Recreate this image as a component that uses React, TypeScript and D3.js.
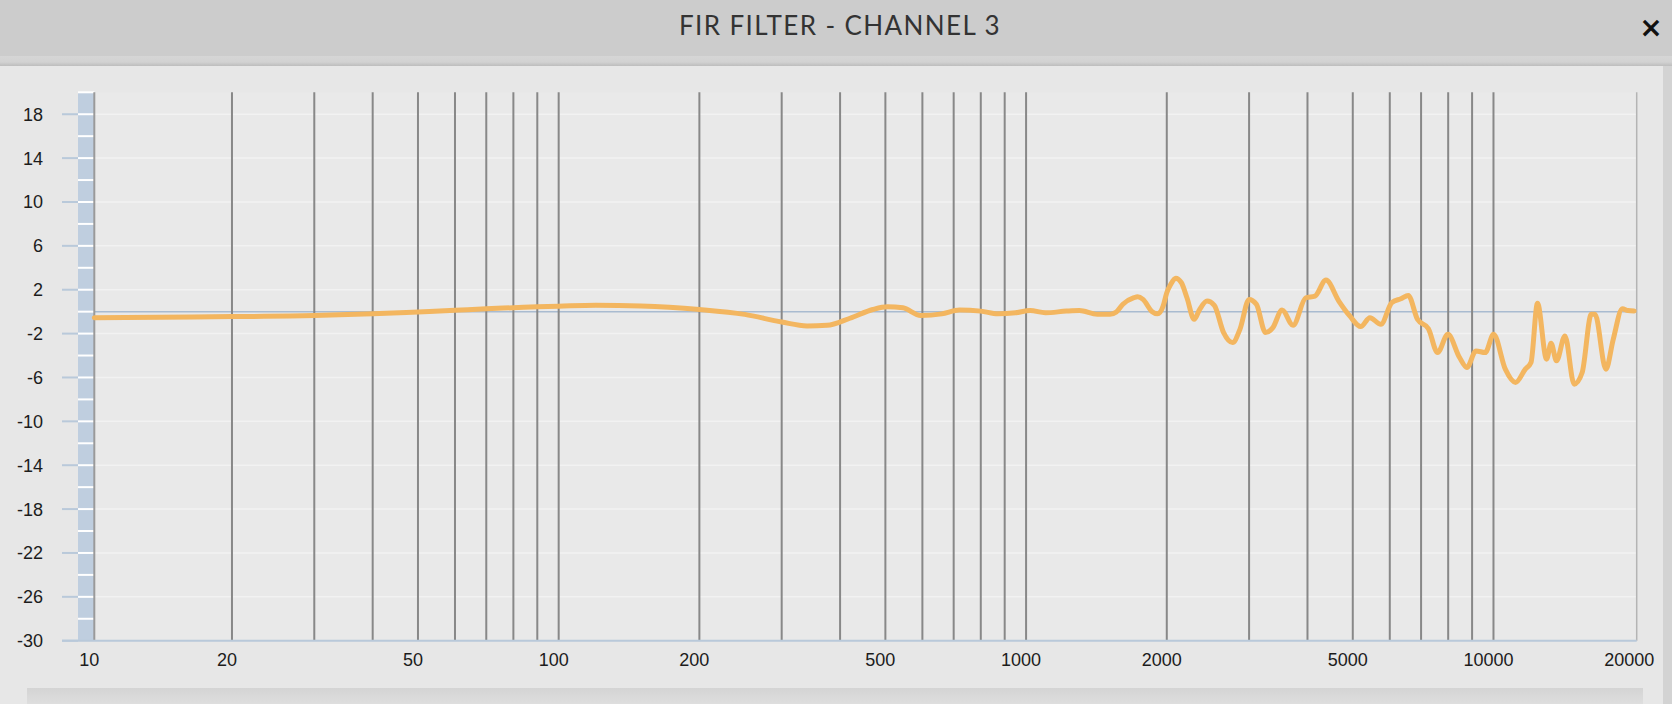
import { useEffect, useRef } from 'react';
import * as d3 from 'd3';

// response curve (Hz, dB)
const FREQ_HZ = [
  10, 14, 20, 30, 40, 50, 60, 70, 80, 90, 100, 120, 150, 200, 250, 300, 340, 375,
  420, 470, 505, 545, 595, 660, 720, 800, 870, 950, 1020, 1100, 1220, 1300, 1420,
  1512, 1560, 1611, 1701, 1732, 1779, 1861, 1911, 1965, 2000, 2040, 2090, 2149,
  2209, 2289, 2352, 2439, 2528, 2646, 2766, 2868, 3000, 3110, 3253, 3373, 3529,
  3725, 3967, 4150, 4381, 4667, 4926, 5200, 5440, 5741, 6060, 6340, 6573, 6876,
  7258, 7593, 7987, 8461, 8772, 9176, 9599, 10005, 10600, 11150, 11700, 12030,
  12420, 12990, 13280, 13640, 14220, 14880, 15480, 16190, 16490, 17400, 18040,
  18870, 19390, 20000,
];

const GAIN_DB = [
  -0.55, -0.5, -0.45, -0.36, -0.2, -0.03, 0.12, 0.27, 0.36, 0.45, 0.5, 0.58, 0.52,
  0.2, -0.25, -0.95, -1.3, -1.25, -0.6, 0.2, 0.45, 0.35, -0.35, -0.2, 0.15, 0.05,
  -0.2, -0.1, 0.1, -0.1, 0.05, 0.1, -0.24, -0.24, -0.03, 0.67, 1.27, 1.36, 1.12,
  0.0, -0.2, 0.52, 1.73, 2.5, 3.05, 2.64, 1.27, -0.7, 0.21, 0.97, 0.58, -1.91,
  -2.82, -1.61, 1.12, 0.67, -1.91, -1.45, 0.15, -1.24, 1.27, 1.42, 2.88, 0.97,
  -0.39, -1.36, -0.55, -1.15, 0.82, 1.18, 1.48, -0.7, -1.55, -3.73, -2.06, -4.18,
  -5.09, -3.58, -3.73, -2.06, -5.24, -6.45, -5.24, -4.64, 0.76, -4.33, -2.88,
  -4.48, -2.21, -6.61, -5.55, -0.24, -0.24, -5.24, -2.52, 0.27, 0.1, 0.06,
];

const X_LABELS = [10, 20, 50, 100, 200, 500, 1000, 2000, 5000, 10000, 20000];
const X_GRID = [
  20, 30, 40, 50, 60, 70, 80, 90, 100, 200, 300, 400, 500, 600, 700, 800, 900,
  1000, 2000, 3000, 4000, 5000, 6000, 7000, 8000, 9000, 10000,
];
const Y_LABELS = [18, 14, 10, 6, 2, -2, -6, -10, -14, -18, -22, -26, -30];

const W = 1672;
const H = 704;

export default function App() {
  const svgRef = useRef<SVGSVGElement>(null);

  useEffect(() => {
    if (!svgRef.current) return;
    const svg = d3.select(svgRef.current);
    svg.selectAll('*').remove();

    const left = 94.3;
    const right = 1636.7;
    const top = 92.3;
    const bottom = 640.7;

    // the plot edges sit a little outside 10 Hz / 20 kHz in the original
    const x = d3.scaleLog().domain([10.15, 20250]).range([left, right]);
    const y = d3.scaleLinear().domain([-30, 20]).range([bottom, top]);
    const xc = (f: number) => Math.max(left, Math.min(right, x(f)));

    const defs = svg.append('defs');
    const sh = defs
      .append('linearGradient')
      .attr('id', 'sep')
      .attr('x1', 0)
      .attr('y1', 0)
      .attr('x2', 0)
      .attr('y2', 1);
    sh.append('stop').attr('offset', '0%').attr('stop-color', '#d6d6d6');
    sh.append('stop').attr('offset', '60%').attr('stop-color', '#d2d2d2');
    sh.append('stop').attr('offset', '100%').attr('stop-color', '#bdbdbd');

    const foot = defs
      .append('linearGradient')
      .attr('id', 'foot')
      .attr('x1', 0)
      .attr('y1', 0)
      .attr('x2', 0)
      .attr('y2', 1);
    foot.append('stop').attr('offset', '0%').attr('stop-color', '#d4d4d4');
    foot.append('stop').attr('offset', '100%').attr('stop-color', '#dedede');

    // window chrome
    svg.append('rect').attr('width', W).attr('height', H).attr('fill', '#e7e7e7');
    svg.append('rect').attr('width', W).attr('height', 56).attr('fill', '#cccccc');
    svg.append('rect').attr('y', 56).attr('width', W).attr('height', 10).attr('fill', 'url(#sep)');
    svg.append('rect').attr('x', 1663).attr('y', 66).attr('width', 9).attr('height', H - 66).attr('fill', '#d3d3d3');
    svg.append('rect').attr('x', 27).attr('y', 688).attr('width', 1616).attr('height', 16).attr('fill', 'url(#foot)');

    svg
      .append('text')
      .attr('x', 840)
      .attr('y', 26)
      .attr('dy', '0.35em')
      .attr('text-anchor', 'middle')
      .attr('font-family', 'Lato, "Open Sans", sans-serif')
      .attr('font-size', 26)
      .attr('letter-spacing', 1.4)
      .attr('fill', '#333')
      .text('FIR FILTER - CHANNEL 3');

    svg
      .append('text')
      .attr('x', 1651)
      .attr('y', 27)
      .attr('dy', '0.35em')
      .attr('text-anchor', 'middle')
      .attr('font-family', '"DejaVu Sans", sans-serif')
      .attr('font-weight', 'bold')
      .attr('font-size', 28)
      .attr('fill', '#111')
      .text('\u00d7');

    // plot background
    svg
      .append('rect')
      .attr('x', left)
      .attr('y', top)
      .attr('width', right - left)
      .attr('height', bottom - top)
      .attr('fill', '#e9e9e9');

    // horizontal grid
    svg
      .append('g')
      .selectAll('line')
      .data(Y_LABELS.filter((d) => d !== -30))
      .join('line')
      .attr('x1', left)
      .attr('x2', right)
      .attr('y1', (d) => y(d))
      .attr('y2', (d) => y(d))
      .attr('stroke', '#f2f2f2')
      .attr('stroke-width', 1.5);

    svg
      .append('line')
      .attr('x1', left)
      .attr('x2', right)
      .attr('y1', y(0))
      .attr('y2', y(0))
      .attr('stroke', '#a9bbd0')
      .attr('stroke-width', 1.5);

    // vertical grid
    svg
      .append('g')
      .selectAll('line')
      .data(X_GRID)
      .join('line')
      .attr('x1', (d) => x(d))
      .attr('x2', (d) => x(d))
      .attr('y1', top)
      .attr('y2', bottom)
      .attr('stroke', '#888888')
      .attr('stroke-width', 2);

    svg
      .append('line')
      .attr('x1', right)
      .attr('x2', right)
      .attr('y1', top)
      .attr('y2', bottom)
      .attr('stroke', '#b4b4b4')
      .attr('stroke-width', 1.5);

    // blue band on the y axis
    svg
      .append('rect')
      .attr('x', 78)
      .attr('y', top)
      .attr('width', left - 78)
      .attr('height', bottom - top)
      .attr('fill', '#bfcedf');

    svg
      .append('g')
      .selectAll('line')
      .data(d3.range(-28, 21, 2))
      .join('line')
      .attr('x1', 78)
      .attr('x2', left)
      .attr('y1', (d) => y(d))
      .attr('y2', (d) => y(d))
      .attr('stroke', '#ffffff')
      .attr('stroke-width', 2);

    svg
      .append('g')
      .selectAll('line')
      .data(Y_LABELS)
      .join('line')
      .attr('x1', 62)
      .attr('x2', 78)
      .attr('y1', (d) => y(d))
      .attr('y2', (d) => y(d))
      .attr('stroke', '#b9c9da')
      .attr('stroke-width', 2);

    svg
      .append('line')
      .attr('x1', left)
      .attr('x2', left)
      .attr('y1', top)
      .attr('y2', bottom)
      .attr('stroke', '#9a9a9a')
      .attr('stroke-width', 2);

    svg
      .append('line')
      .attr('x1', 62)
      .attr('x2', right)
      .attr('y1', bottom)
      .attr('y2', bottom)
      .attr('stroke', '#b9c9da')
      .attr('stroke-width', 2);

    // labels
    svg
      .append('g')
      .selectAll('text')
      .data(Y_LABELS)
      .join('text')
      .attr('x', 43)
      .attr('y', (d) => y(d))
      .attr('dy', '0.36em')
      .attr('text-anchor', 'end')
      .attr('font-family', '"Liberation Sans", Arial, sans-serif')
      .attr('font-size', 18)
      .attr('fill', '#1c1c1c')
      .text((d) => d);

    svg
      .append('g')
      .selectAll('text')
      .data(X_LABELS)
      .join('text')
      .attr('x', (d) => xc(d) - 5)
      .attr('y', 666)
      .attr('text-anchor', 'middle')
      .attr('font-family', '"Liberation Sans", Arial, sans-serif')
      .attr('font-size', 18)
      .attr('fill', '#1c1c1c')
      .text((d) => d);

    // response curve
    const pts = FREQ_HZ.map((f, i) => [f, GAIN_DB[i]] as [number, number]);
    const line = d3
      .line<[number, number]>()
      .x((d) => xc(d[0]))
      .y((d) => y(d[1]))
      .curve(d3.curveMonotoneX);

    svg
      .append('path')
      .datum(pts)
      .attr('d', line)
      .attr('fill', 'none')
      .attr('stroke', '#f3b660')
      .attr('stroke-width', 5)
      .attr('stroke-linejoin', 'round')
      .attr('stroke-linecap', 'round');
  }, []);

  return (
    <svg
      ref={svgRef}
      width={W}
      height={H}
      style={{ position: 'fixed', left: 0, top: 0, display: 'block' }}
    />
  );
}
